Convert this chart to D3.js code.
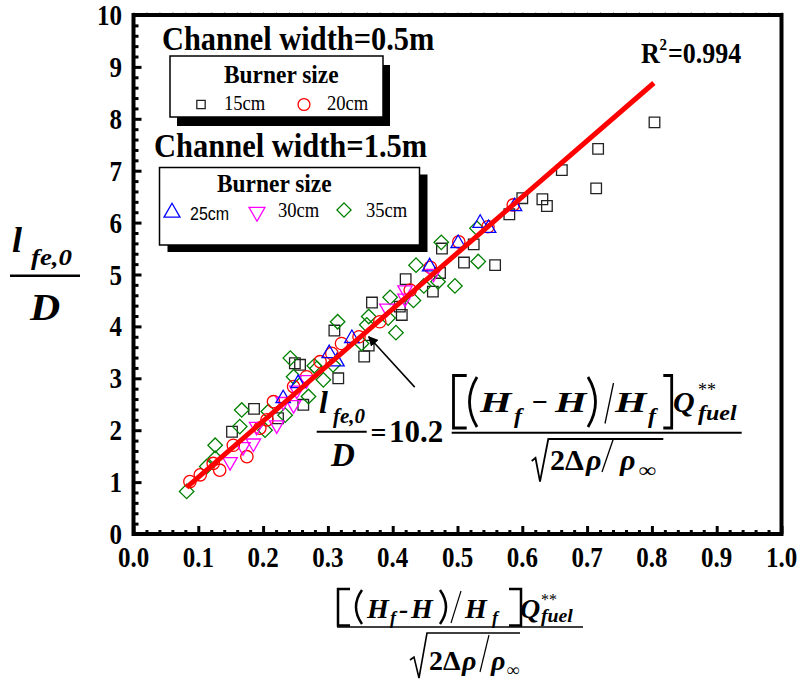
<!DOCTYPE html>
<html><head><meta charset="utf-8">
<script src="https://cdn.jsdelivr.net/npm/d3@7"></script>
<style>html,body{margin:0;padding:0;background:#fff;}svg{display:block;}</style>
</head><body>
<script>
// ---------- DATA ----------
const xTicks = [0.0,0.1,0.2,0.3,0.4,0.5,0.6,0.7,0.8,0.9,1.0];
const xTickLabels = ["0.0","0.1","0.2","0.3","0.4","0.5","0.6","0.7","0.8","0.9","1.0"];
const yTicks = [0,1,2,3,4,5,6,7,8,9,10];
const yTickLabels = ["0","1","2","3","4","5","6","7","8","9","10"];

// Channel width = 0.5 m
const burner15 = [[0.804,7.93],[0.717,7.42],[0.661,7.01],[0.714,6.66],[0.600,6.47],[0.631,6.45],[0.638,6.32],[0.580,6.16],[0.525,5.58],[0.476,5.50],[0.510,5.23],[0.558,5.18],[0.473,5.03],[0.420,4.91],[0.462,4.67],[0.368,4.46],[0.411,4.38],[0.414,4.22],[0.310,3.92],[0.363,3.63],[0.356,3.42],[0.316,3.00],[0.249,3.29],[0.262,2.49],[0.186,2.41],[0.223,2.23],[0.152,1.97],[0.257,3.26]];
const burner20 = [[0.586,6.34],[0.547,5.92],[0.502,5.63],[0.458,5.14],[0.427,4.70],[0.380,4.09],[0.348,3.80],[0.321,3.67],[0.306,3.48],[0.288,3.32],[0.267,3.03],[0.247,2.84],[0.216,2.55],[0.206,2.20],[0.195,2.04],[0.175,1.49],[0.154,1.71],[0.133,1.23],[0.123,1.36],[0.103,1.14],[0.087,1.01]];
// Channel width = 1.5 m
const burner25 = [[0.588,6.31],[0.535,5.99],[0.548,5.89],[0.501,5.60],[0.457,5.15],[0.337,3.77],[0.302,3.48],[0.314,3.32],[0.254,2.90],[0.231,2.61]];
const burner30 = [[0.463,5.02],[0.419,4.70],[0.391,4.35],[0.419,4.54],[0.267,2.97],[0.252,2.77],[0.231,2.55],[0.247,2.49],[0.221,2.10],[0.190,2.07],[0.185,1.75],[0.169,1.68],[0.149,1.39]];
const burner35 = [[0.532,5.25],[0.530,5.89],[0.475,5.62],[0.496,4.78],[0.436,5.18],[0.470,4.86],[0.448,4.78],[0.396,4.56],[0.432,4.50],[0.393,4.16],[0.405,3.88],[0.363,4.19],[0.360,4.03],[0.315,4.09],[0.352,3.67],[0.279,3.24],[0.308,3.26],[0.242,3.39],[0.247,3.03],[0.283,3.19],[0.270,2.65],[0.293,2.97],[0.208,2.36],[0.167,2.39],[0.164,2.07],[0.126,1.71],[0.126,1.46],[0.113,1.30],[0.082,0.82],[0.203,2.00],[0.234,2.29]];
// fitted line end points
const fitLine = [[0.082,0.90],[0.803,8.69]];
// arrow: tail -> tip
const arrowPts = [[0.434,2.83],[0.363,3.80]];

// ---------- SETUP ----------
const W = 801, H = 691;
const svg = d3.select("body").append("svg").attr("width", W).attr("height", H);
const x = d3.scaleLinear().domain([0,1]).range([133.5,781.5]);
const y = d3.scaleLinear().domain([0,10]).range([534,15]);

function T(parent, px, py, str, o) {
  return parent.append("text")
    .attr("transform", `translate(${px},${py}) scale(${o.sx||1},${o.sy||1})`)
    .attr("font-family", o.family || "'Liberation Serif','Times New Roman',serif")
    .attr("font-size", o.size)
    .attr("font-weight", o.weight || "normal")
    .attr("font-style", o.style || "normal")
    .attr("text-anchor", o.anchor || "start")
    .attr("fill", o.fill || "#000")
    .text(str);
}

// ---------- AXES / TICKS ----------
const xMinor = d3.range(0, 1.0001, 0.02).filter(v => Math.abs(Math.round(v*10)-v*10) > 1e-6);
const yMinor = d3.range(0, 10.0001, 0.2).filter(v => Math.abs(Math.round(v)-v) > 1e-6);

const axB = svg.append("g").attr("transform", `translate(0,${y(0)})`)
  .call(d3.axisTop(x).tickValues(xTicks).tickSize(8).tickFormat(""));
const axBm = svg.append("g").attr("transform", `translate(0,${y(0)})`)
  .call(d3.axisTop(x).tickValues(xMinor).tickSize(4).tickFormat(""));
const axL = svg.append("g").attr("transform", `translate(${x(0)},0)`)
  .call(d3.axisRight(y).tickValues(yTicks).tickSize(8).tickFormat(""));
const axLm = svg.append("g").attr("transform", `translate(${x(0)},0)`)
  .call(d3.axisRight(y).tickValues(yMinor).tickSize(5).tickFormat(""));
const axT = svg.append("g").attr("transform", `translate(0,${y(10)})`)
  .call(d3.axisTop(x).tickValues(xMinor.concat(xTicks)).tickSize(3).tickFormat(""));
[axB, axBm, axL, axLm].forEach(g => {
  g.select(".domain").remove();
  g.selectAll(".tick line").attr("stroke", "#000").attr("stroke-width", 3);
});
axT.select(".domain").remove();
axT.selectAll(".tick line").attr("stroke", "#aaa").attr("stroke-width", 1);

// tick labels
xTicks.forEach((v,i) => T(svg, x(v), 567, xTickLabels[i], {size:25, weight:"bold", anchor:"middle", sy:1.2}));
yTicks.forEach((v,i) => T(svg, 122, y(v)+10, yTickLabels[i], {size:25, weight:"bold", anchor:"end", sy:1.2}));

// ---------- DATA MARKS ----------
const plot = svg.append("g");
function drawSeries(data, type, size, color, rot) {
  plot.selectAll(null).data(data).enter().append("path")
    .attr("d", d3.symbol().type(type).size(size))
    .attr("transform", d => `translate(${x(d[0])},${y(d[1])}) rotate(${rot})`)
    .attr("fill", "none").attr("stroke", color).attr("stroke-width", 1.3);
}
drawSeries(burner15, d3.symbolSquare, 112, "#222", 0);
drawSeries(burner35, d3.symbolSquare, 105, "#008000", 45);
drawSeries(burner20, d3.symbolCircle, 120, "#ff0000", 0);
drawSeries(burner30, d3.symbolTriangle, 90, "#ff00ff", 180);
drawSeries(burner25, d3.symbolTriangle, 90, "#0000ff", 0);

// fit line
svg.append("path").datum(fitLine)
  .attr("d", d3.line().x(d => x(d[0])).y(d => y(d[1])))
  .attr("stroke", "#ff0000").attr("stroke-width", 5).attr("fill", "none");

// frame
svg.append("rect").attr("x", x(0)).attr("y", y(10)).attr("width", x(1)-x(0)).attr("height", y(0)-y(10))
  .attr("fill", "none").attr("stroke", "#000").attr("stroke-width", 4);

// arrow
svg.append("defs").append("marker").attr("id","ah").attr("viewBox","0 0 10 10").attr("refX",9).attr("refY",5)
  .attr("markerWidth",10).attr("markerHeight",10).attr("markerUnits","userSpaceOnUse").attr("orient","auto")
  .append("path").attr("d","M0,0 L10,5 L0,10 z").attr("fill","#000");
svg.append("line").attr("x1", x(arrowPts[0][0])).attr("y1", y(arrowPts[0][1]))
  .attr("x2", x(arrowPts[1][0])).attr("y2", y(arrowPts[1][1]))
  .attr("stroke","#000").attr("stroke-width",1.5).attr("marker-end","url(#ah)");

// ---------- LEGENDS ----------
function legendBox(x0,y0,x1,y1,dx,dy){
  svg.append("rect").attr("x",x0+dx).attr("y",y0+dy).attr("width",x1-x0).attr("height",y1-y0).attr("fill","#000");
  svg.append("rect").attr("x",x0).attr("y",y0).attr("width",x1-x0).attr("height",y1-y0).attr("fill","#fff").attr("stroke","#000").attr("stroke-width",1.5);
}
T(svg, 162, 50, "Channel width=0.5m", {size:30.4, weight:"bold", sy:1.08});
legendBox(170,56,383,117,7,9);
T(svg, 224, 83, "Burner size", {size:23.4, weight:"bold", sy:1.08});
function legendSym(px,py,type,size,color,rot){
  svg.append("path").attr("d", d3.symbol().type(type).size(size)).attr("transform",`translate(${px},${py}) rotate(${rot})`)
    .attr("fill","none").attr("stroke",color).attr("stroke-width",1.3);
}
legendSym(201,104.5,d3.symbolSquare,70,"#222",0);
T(svg, 224, 110, "15cm", {size:18.6, sy:1.08});
legendSym(304,104.5,d3.symbolCircle,110,"#ff0000",0);
T(svg, 327, 110, "20cm", {size:18.6, sy:1.08});

T(svg, 154, 156.5, "Channel width=1.5m", {size:30.5, weight:"bold", sy:1.08});
legendBox(159.5,167.5,419.5,245,8,7);
T(svg, 217, 191.5, "Burner size", {size:23.4, weight:"bold", sy:1.08});
legendSym(172,212.5,d3.symbolTriangle,110,"#0000ff",0);
T(svg, 190, 220, "25cm", {size:16, family:"'Liberation Sans',Arial,sans-serif", sy:1.15});
legendSym(257,212,d3.symbolTriangle,110,"#ff00ff",180);
T(svg, 278, 216.5, "30cm", {size:18.6, sy:1.08});
legendSym(344,210,d3.symbolSquare,100,"#008000",45);
T(svg, 366, 216.5, "35cm", {size:18.6, sy:1.08});

// R^2
T(svg, 641, 63, "R", {size:26, weight:"bold", sy:1.15});
T(svg, 659.5, 50, "2", {size:15, weight:"bold", sy:1.15});
T(svg, 668, 63, "=0.994", {size:26, weight:"bold", sy:1.15});

// ---------- EQUATION IN PLOT ----------
const eq = svg.append("g");
const BI = {weight:"bold", style:"italic"};
function P(g, d, w){ g.append("path").attr("d", d).attr("fill","none").attr("stroke","#000").attr("stroke-width", w).attr("stroke-linecap","butt"); }
T(eq, 319, 413, "l", {size:32, ...BI});
T(eq, 333, 423, "fe,0", {size:20, ...BI, sx:1.05});
P(eq, "M316.7,431.7 H366.7", 2);
T(eq, 331, 466, "D", {size:33, ...BI});
T(eq, 370.5, 441.5, "=", {size:28, weight:"bold"});
T(eq, 389, 441.7, "10.2", {size:31, weight:"bold"});
// numerator
P(eq, "M466.7,375.5 H453.5 V428 H466.7", 2.8);
P(eq, "M477,377 Q462,402 477,427", 2.8);
T(eq, 480, 411.7, "H", {size:30, ...BI, sx:1.35});
T(eq, 514, 423, "f", {size:20, ...BI, sx:1.2});
T(eq, 532, 411, "\u2212", {size:28, weight:"bold"});
T(eq, 555, 411.7, "H", {size:30, ...BI, sx:1.35});
P(eq, "M588,377 Q603,402 588,427", 2.8);
P(eq, "M605,423.5 L613.5,383", 1.3);
T(eq, 615, 411.7, "H", {size:30, ...BI, sx:1.35});
T(eq, 648, 423, "f", {size:20, ...BI, sx:1.2});
P(eq, "M663.3,375.5 H671.7 V428 H663.3", 2.8);
T(eq, 673, 411.7, "Q", {size:30, ...BI});
T(eq, 698, 396, "**", {size:18});
T(eq, 698, 420, "fuel", {size:20, ...BI, sx:1.2});
P(eq, "M451.7,432.7 H741.7", 2);
// denominator
P(eq, "M531.7,461 L535.5,458 L540,481.7 L548.3,439 H663.3", 1.8);
T(eq, 550, 470, "2\u0394", {size:30, weight:"bold"});
T(eq, 586, 470, "\u03c1", {size:30, ...BI});
P(eq, "M602,472 L613.3,439", 1.3);
T(eq, 620, 470, "\u03c1", {size:30, ...BI});
T(eq, 639, 477, "\u221e", {size:20, weight:"bold", sx:1.2});

// ---------- Y AXIS LABEL ----------
const yl = svg.append("g");
T(yl, 12, 252, "l", {size:36, ...BI});
T(yl, 31, 265, "fe,0", {size:24, ...BI, sx:1.12});
P(yl, "M10,275.7 H80", 2.5);
T(yl, 30, 320, "D", {size:38, ...BI, sx:1.1});

// ---------- X AXIS LABEL ----------
const xl = svg.append("g");
P(xl, "M350,589 H338 V625.5 H350", 2.5);
P(xl, "M362,590 Q350,607 362,624", 2.5);
T(xl, 367, 618, "H", {size:28, ...BI, sx:1.0});
T(xl, 390, 624, "f", {size:18, ...BI});
T(xl, 399, 618, "-", {size:28, ...BI});
T(xl, 411, 618, "H", {size:28, ...BI, sx:1.0});
P(xl, "M440,590 Q452,607 440,624", 2.5);
P(xl, "M451,623 L461,591", 1.2);
T(xl, 465, 618, "H", {size:28, ...BI, sx:1.0});
T(xl, 492, 624, "f", {size:18, ...BI});
P(xl, "M509,589 H521 V625.5 H509", 2.5);
T(xl, 520, 618, "Q", {size:28, ...BI});
T(xl, 541, 605, "**", {size:16});
T(xl, 541, 622, "fuel", {size:18, ...BI, sx:1.1});
P(xl, "M337,627 H583", 1.5);
P(xl, "M410,660 L414,657 L419,678 L427,633 H520", 1.6);
T(xl, 429, 670, "2\u0394", {size:28, weight:"bold"});
T(xl, 462, 670, "\u03c1", {size:28, ...BI});
P(xl, "M480,672 L489,635", 1.2);
T(xl, 491, 670, "\u03c1", {size:28, ...BI});
T(xl, 507, 676, "\u221e", {size:18, weight:"bold"});
</script>
</body></html>
